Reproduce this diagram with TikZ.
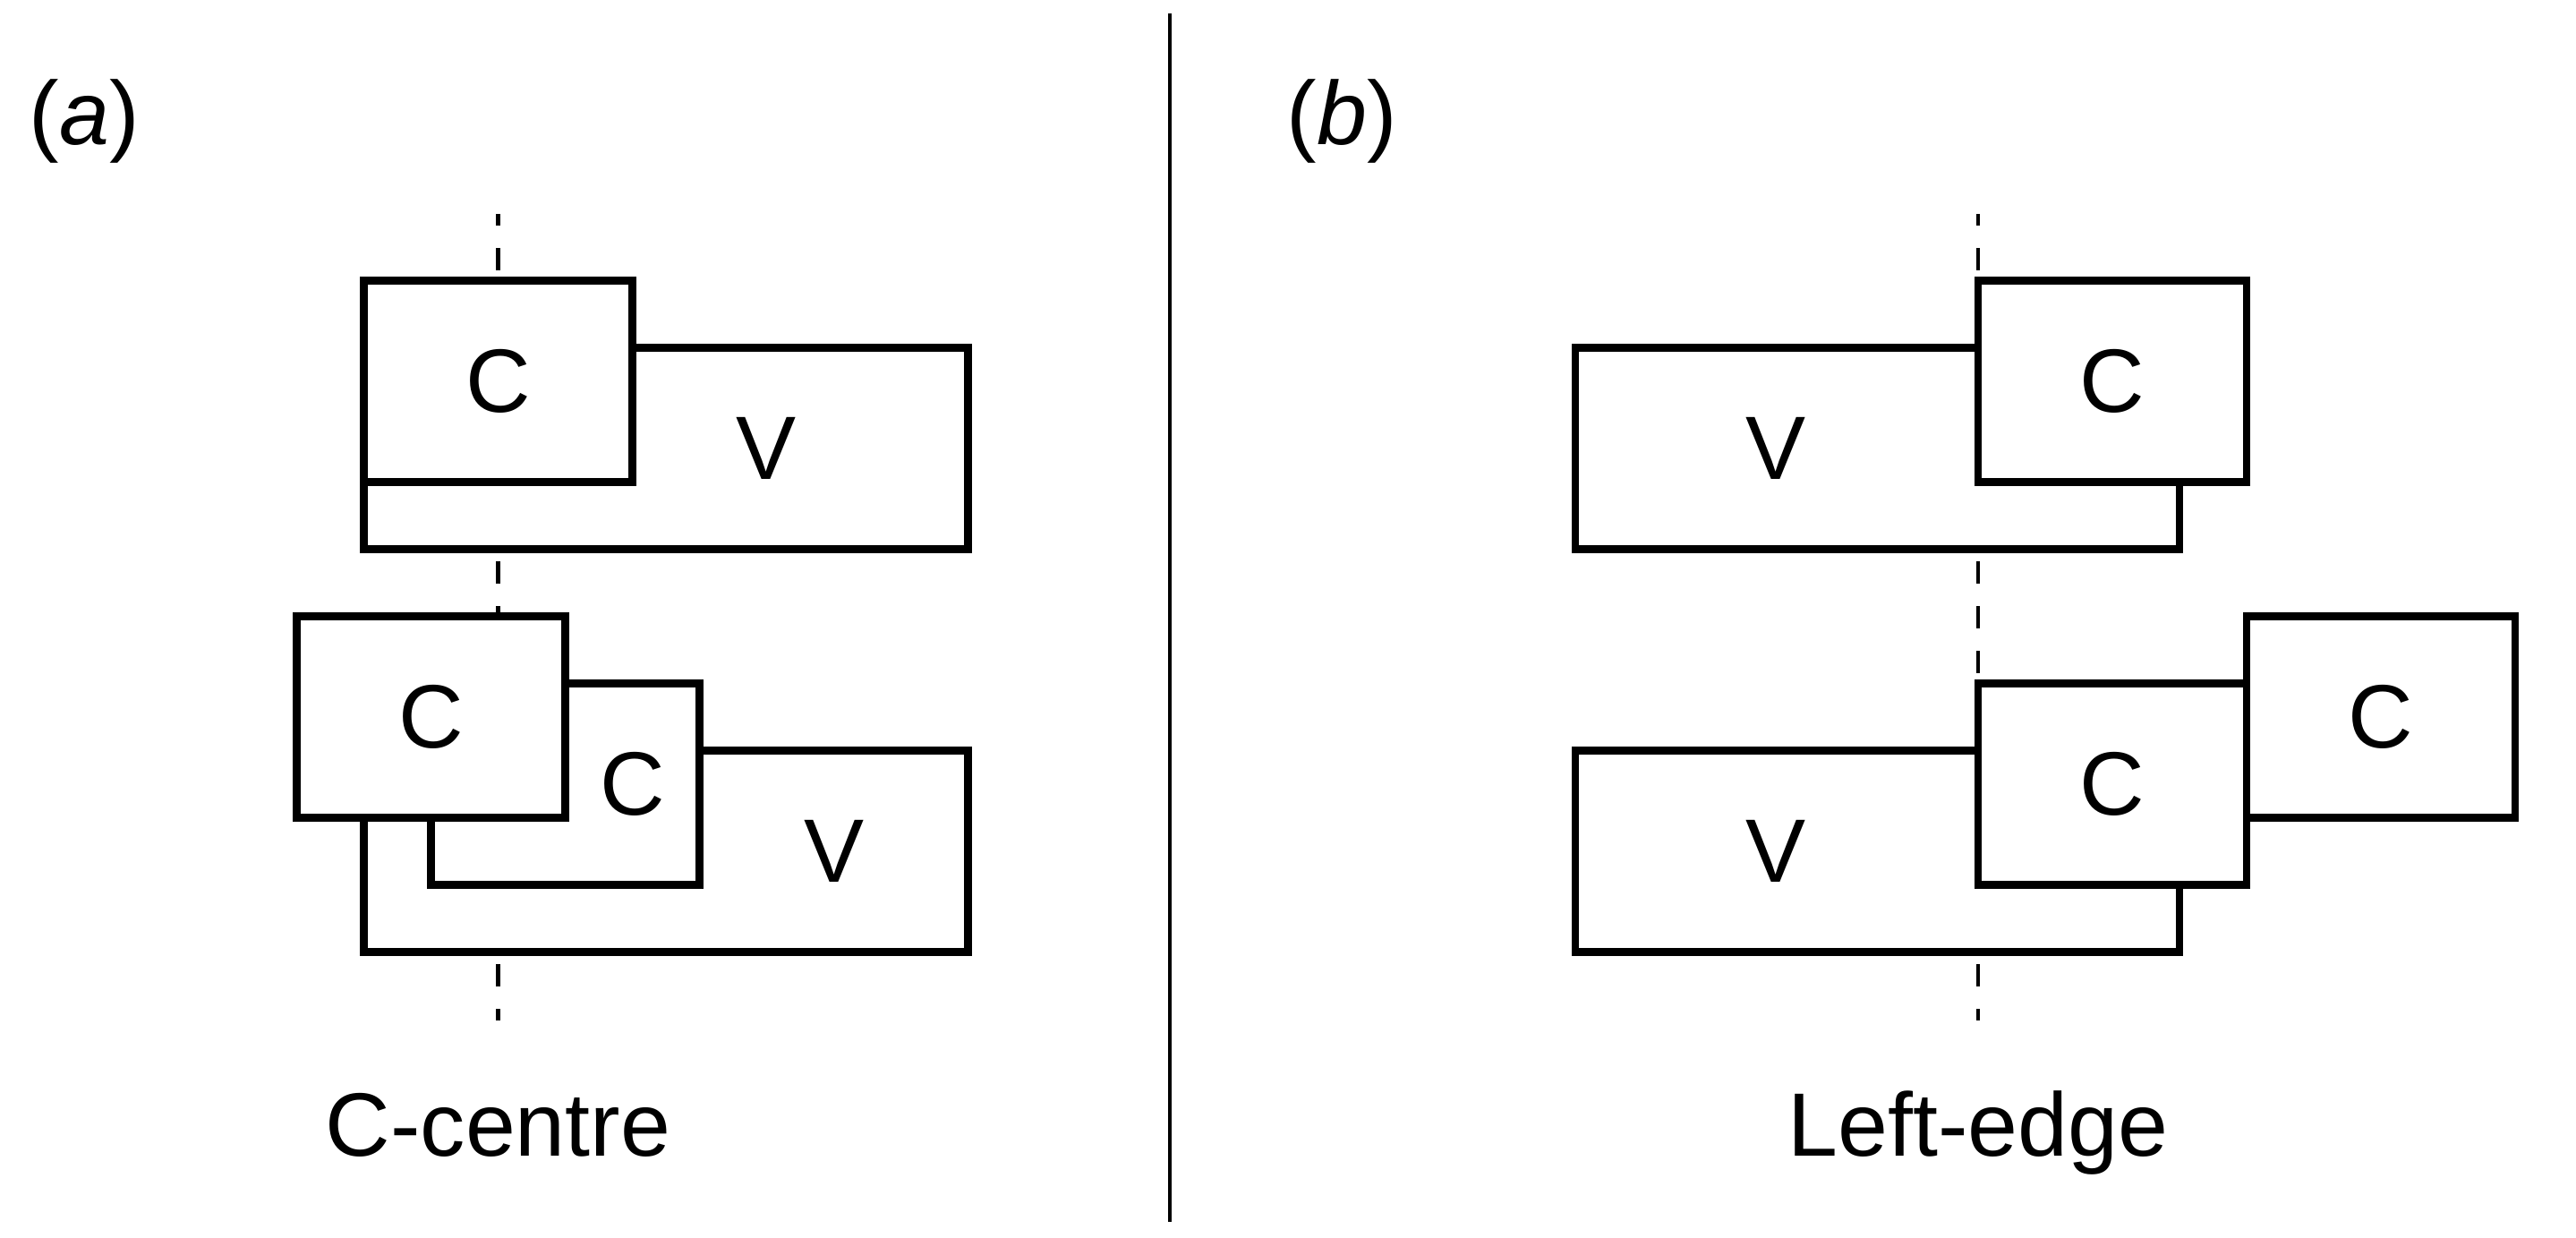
\documentclass[tikz,border=0pt]{standalone}
\usepackage{fontspec}
\setmainfont{Liberation Sans}
\usetikzlibrary{positioning,calc}

\begin{document}
\begin{tikzpicture}[
  font=\fontsize{28.6}{34}\selectfont,
  seg/.style={draw,line width=2.3pt,fill=white,inner sep=0pt,minimum height=2.25cm},
  cseg/.style={seg,minimum width=3cm},
  vseg/.style={seg,minimum width=6.75cm},
  tag/.style={anchor=base west,inner sep=0pt},
  midline/.style={line width=1.2pt,dash pattern={on 0.243cm off 0.257cm},dash phase=0.116cm}]
  \useasboundingbox (0,0) rectangle (28.78,13.83);

  % divider between the two panels
  \coordinate (divtop) at (13.07,13.68);
  \coordinate (divbot) at (13.07,0.18);
  \draw[line width=1.3pt] (divtop) -- (divbot);

  % (a) C-centre
  \coordinate (atop) at (5.565,11.44);
  \coordinate (abot) at (5.565,2.43);
  \draw[midline] (atop) -- (abot);
  \node[vseg] (va1) at (7.44,8.82) {};
  \node[cseg] (ca1) at (5.565,9.57) {C};
  \node[xshift=1.125cm] (vla1) at (va1) {V};
  \node[vseg] (va2) at (7.44,4.32) {};
  \node[cseg] (ca2) at (6.315,5.07) {};
  \node[cseg] (ca3) at (4.815,5.82) {C};
  \node[xshift=0.75cm] (cla2) at (ca2) {C};
  \node[xshift=1.88cm] (vla2) at (va2) {V};
  \node[tag] (taga) at (0.32,12.21) {(\textit{a})};
  \node[anchor=base] (capa) at (5.565,0.913) {C-centre};

  % (b) Left-edge
  \coordinate (btop) at (22.10,11.44);
  \coordinate (bbot) at (22.10,2.43);
  \draw[midline] (btop) -- (bbot);
  \node[vseg] (vb1) at (20.975,8.82) {};
  \node[cseg] (cb1) at (23.60,9.57) {C};
  \node[xshift=-1.133cm] (vlb1) at (vb1) {V};
  \node[vseg] (vb2) at (20.975,4.32) {};
  \node[cseg] (cb2) at (23.60,5.07) {C};
  \node[cseg] (cb3) at (26.60,5.82) {C};
  \node[xshift=-1.133cm] (vlb2) at (vb2) {V};
  \node[tag] (tagb) at (14.37,12.21) {(\textit{b})};
  \node[anchor=base] (capb) at (22.10,0.913) {Left-edge};
\end{tikzpicture}
\end{document}
